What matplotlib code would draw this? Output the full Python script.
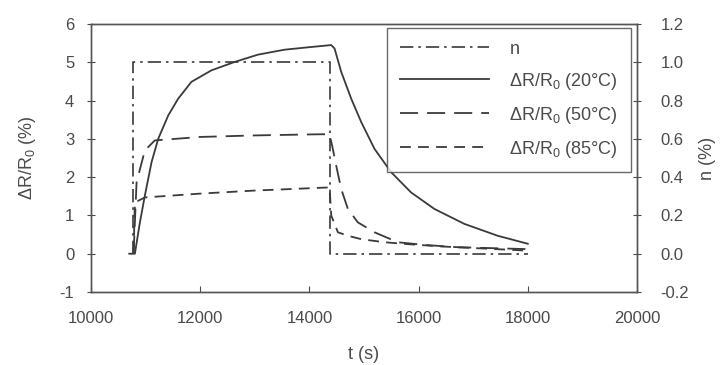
import matplotlib
matplotlib.use("Agg")
import matplotlib.pyplot as plt

plt.rcParams['font.family'] = ['Liberation Sans', 'DejaVu Sans']
plt.rcParams['mathtext.fontset'] = 'custom'
plt.rcParams['mathtext.rm'] = 'Liberation Sans'
plt.rcParams['mathtext.it'] = 'Liberation Sans'
plt.rcParams['axes.unicode_minus'] = False

TXT = '#4a4a4a'
LN = '#3a3a3a'

# n (right axis, %)
t_n = [10770, 10770, 14370, 14370, 18000]
v_n = [0.0, 1.0, 1.0, 0.0, 0.0]

# dR/R0 at 20 C
t_20 = [10700, 10804, 10896, 10987, 11109, 11231, 11414, 11597, 11840, 12206, 12633, 13059,
        13547, 14035, 14400, 14461, 14583, 14766, 14949, 15192, 15497, 15863, 16289,
        16837, 17446, 18000]
v_20 = [0.0, 0.0, 0.82, 1.52, 2.39, 3.00, 3.61, 4.05, 4.49, 4.79, 5.01, 5.20,
        5.33, 5.40, 5.45, 5.36, 4.75, 4.05, 3.44, 2.74, 2.13, 1.60, 1.17,
        0.78, 0.47, 0.26]

# dR/R0 at 50 C
t_50 = [10780, 10835, 10987, 11170, 12000, 13000, 14186, 14370, 14420, 14491, 14583,
        14705, 14887, 15192, 15618, 16106, 16709, 18000]
v_50 = [0.0, 1.87, 2.70, 2.96, 3.05, 3.09, 3.12, 3.12, 2.8, 2.30, 1.69,
        1.17, 0.82, 0.56, 0.30, 0.23, 0.17, 0.12]

# dR/R0 at 85 C
t_85 = [10780, 10804, 10987, 12000, 13000, 14333, 14370, 14400, 14522, 14705, 14949,
        15375, 15801, 16411, 18000]
v_85 = [0.0, 1.34, 1.47, 1.57, 1.65, 1.73, 1.73, 1.00, 0.56, 0.47, 0.38,
        0.30, 0.25, 0.19, 0.08]

fig = plt.figure(figsize=(7.25, 3.65), dpi=100)
ax = fig.add_axes([0.1255, 0.2, 0.7531, 0.7342])
ax2 = ax.twinx()

l20, = ax.plot(t_20, v_20, color=LN, lw=1.3, label=r'$\Delta$R/R$_0$ (20°C)')
l50, = ax.plot(t_50, v_50, color=LN, lw=1.3, dashes=(10, 5), label=r'$\Delta$R/R$_0$ (50°C)')
l85, = ax.plot(t_85, v_85, color=LN, lw=1.3, dashes=(6, 4), label=r'$\Delta$R/R$_0$ (85°C)')
ln, = ax2.plot(t_n, v_n, color=LN, lw=1.2, dashes=(8, 3, 1.5, 3), label='n')

ax.set_xlim(10000, 20000)
ax.set_ylim(-1, 6)
ax2.set_ylim(-0.2, 1.2)
ax.set_xticks([10000, 12000, 14000, 16000, 18000, 20000])
ax.set_yticks(range(-1, 7))
ax2.set_yticks([-0.2, 0.0, 0.2, 0.4, 0.6, 0.8, 1.0, 1.2])
ax2.set_yticklabels(['-0.2', '0.0', '0.2', '0.4', '0.6', '0.8', '1.0', '1.2'])

for a in (ax, ax2):
    for s in a.spines.values():
        s.set_color('#555555')
        s.set_linewidth(1.0)
ax.tick_params(axis='y', direction='inout', length=6, colors=TXT, labelsize=12, labelcolor=TXT, pad=9)
ax.tick_params(axis='x', direction='in', length=4, colors=TXT, labelsize=12, labelcolor=TXT, pad=14)
ax2.tick_params(axis='y', direction='inout', length=6, colors=TXT, labelsize=12, labelcolor=TXT, pad=14)

ax.set_xlabel('t (s)', fontsize=13, color=TXT)
ax.xaxis.set_label_coords(0.5, -0.232)
ax.xaxis.label.set_va('center')
ax.set_ylabel(r'$\Delta$R/R$_0$ (%)', fontsize=13, color=TXT)
ax.yaxis.set_label_coords(-0.116, 0.5)
ax.yaxis.label.set_va('center')
ax2.set_ylabel('n (%)', fontsize=13, color=TXT)
ax2.yaxis.set_label_coords(1.13, 0.5)
ax2.yaxis.label.set_va('center')

leg = ax2.legend(handles=[ln, l20, l50, l85], loc='upper left',
                 bbox_to_anchor=(0.543, 0.985), frameon=True, fancybox=False,
                 edgecolor='#444444', fontsize=13, handlelength=4.9, handletextpad=1.15,
                 borderpad=0.7, labelspacing=0.72, borderaxespad=0)
leg.get_frame().set_linewidth(1.0)
for txt in leg.get_texts():
    txt.set_color(TXT)

fig.savefig('out.png', dpi=100)
